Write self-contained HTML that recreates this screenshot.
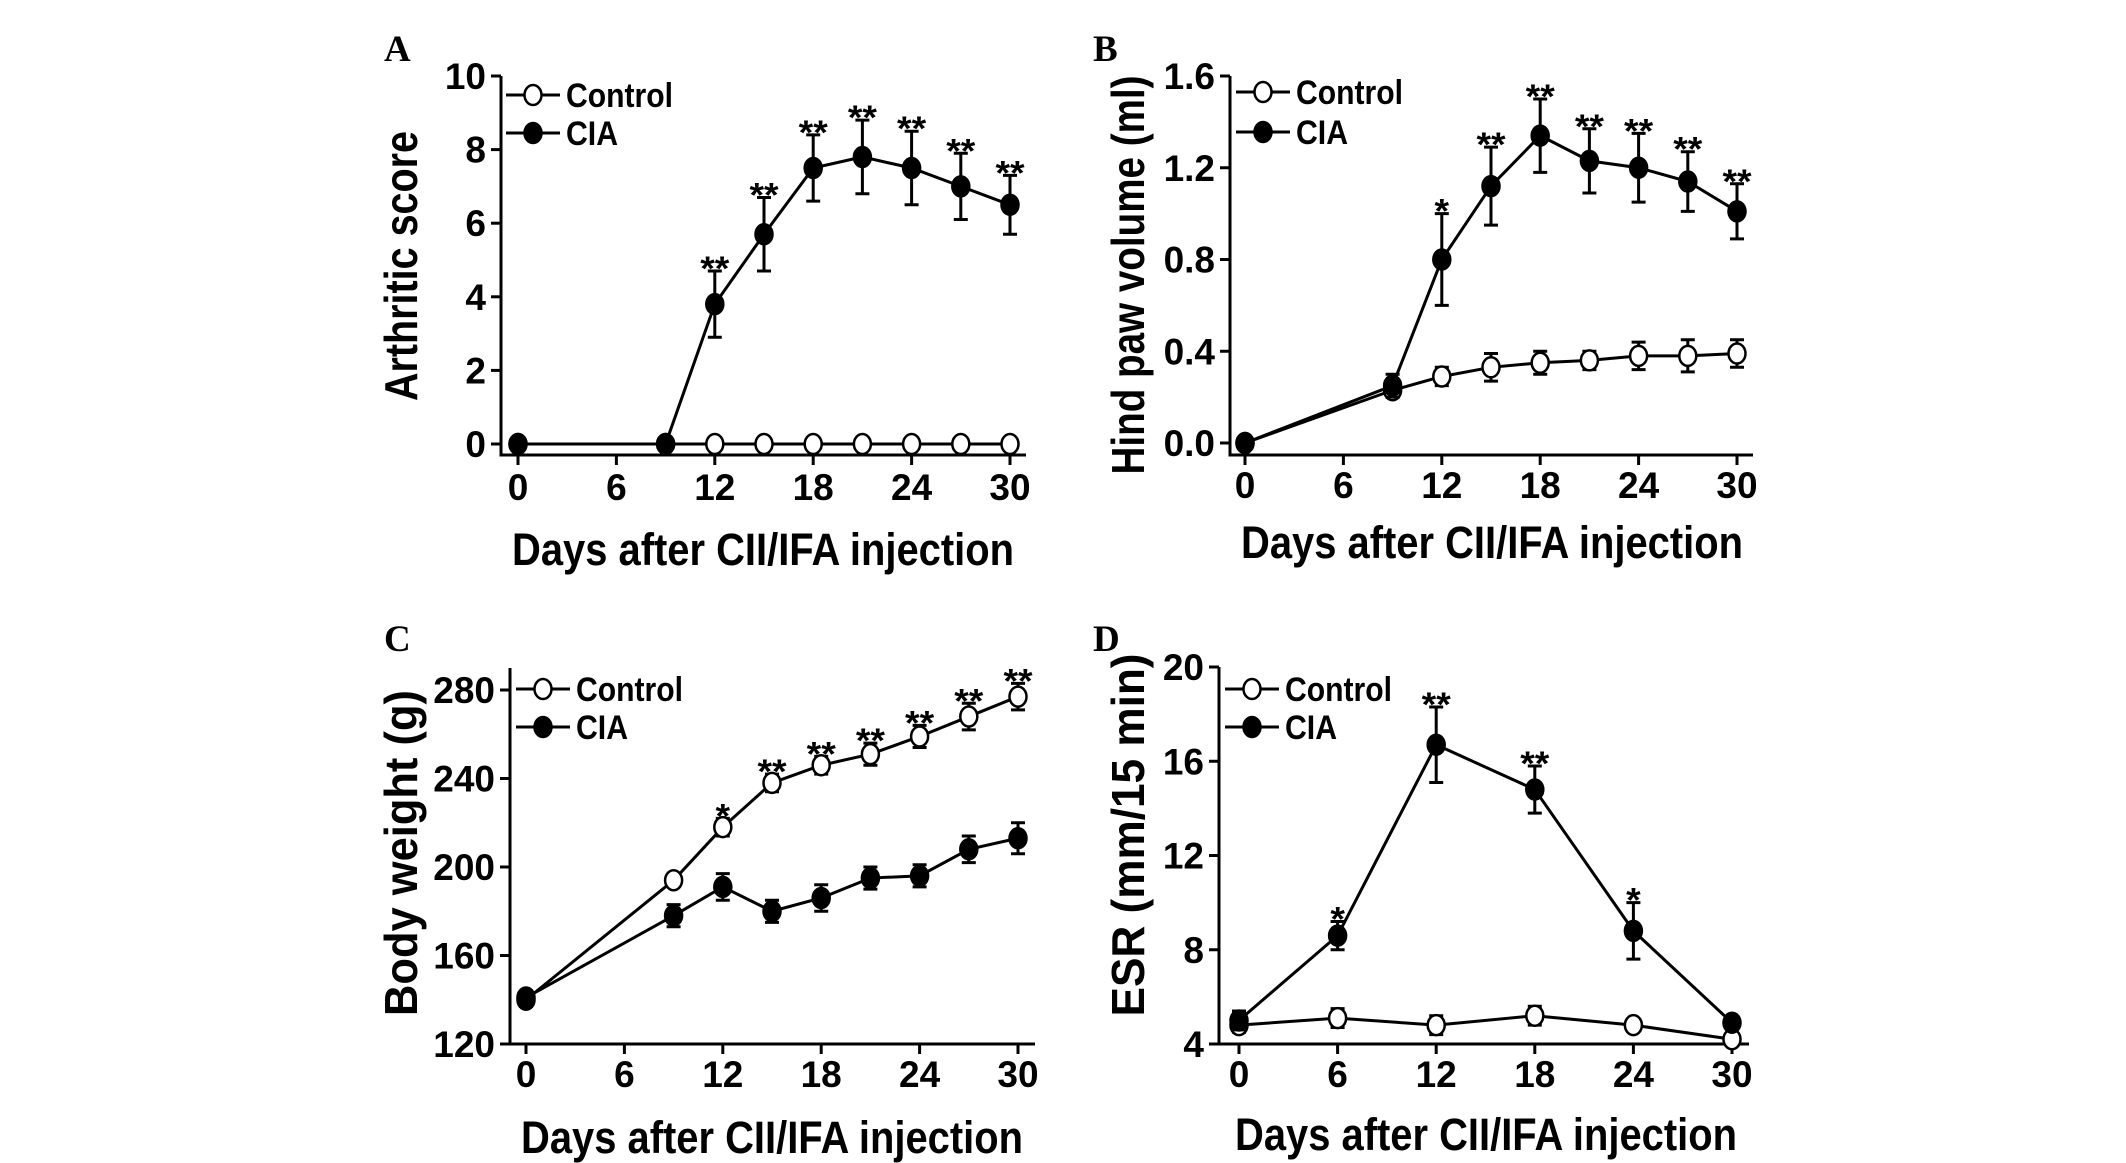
<!DOCTYPE html>
<html><head><meta charset="utf-8"><style>
html,body{margin:0;padding:0;background:#fff;overflow:hidden;}
svg{display:block;}
text{font-family:"Liberation Sans",Arial,sans-serif;font-weight:bold;fill:#000;}
</style></head><body>
<svg id="fig" width="2126" height="1163" viewBox="0 0 2126 1163" xmlns="http://www.w3.org/2000/svg"></svg>
<script>
// Panel A data
const daysA = [0,9,12,15,18,21,24,27,30];
const ctrlA = [0,0,0,0,0,0,0,0,0];
const ctrlErrA = [0,0,0,0,0,0,0,0,0];
const ciaA = [0,0,3.8,5.7,7.5,7.8,7.5,7.0,6.5];
const ciaErrA = [0,0,0.9,1.0,0.9,1.0,1.0,0.9,0.8];
const starsA = ["","","**","**","**","**","**","**","**"];
const yTicksA = [0,2,4,6,8,10];
// Panel B data
const daysB = [0,9,12,15,18,21,24,27,30];
const ctrlB = [0,0.23,0.29,0.33,0.35,0.36,0.38,0.38,0.39];
const ctrlErrB = [0,0.03,0.04,0.06,0.05,0.04,0.06,0.07,0.06];
const ciaB = [0,0.25,0.80,1.12,1.34,1.23,1.20,1.14,1.01];
const ciaErrB = [0,0.05,0.20,0.17,0.16,0.14,0.15,0.13,0.12];
const starsB = ["","","*","**","**","**","**","**","**"];
const yTicksB = [0,0.4,0.8,1.2,1.6];
const yLabelsB = ["0.0","0.4","0.8","1.2","1.6"];
// Panel C data
const daysC = [0,9,12,15,18,21,24,27,30];
const ctrlC = [140,194,218,238,246,251,259,268,277];
const ctrlErrC = [3,2,4,4,4,5,5,6,6];
const ciaC = [141,178,191,180,186,195,196,208,213];
const ciaErrC = [3,5,6,5,6,5,5,6,7];
const starsC = ["","","*","**","**","**","**","**","**"];
const yTicksC = [120,160,200,240,280];
// Panel D data
const daysD = [0,6,12,18,24,30];
const ctrlD = [4.8,5.1,4.8,5.2,4.8,4.2];
const ctrlErrD = [0.3,0.4,0.4,0.4,0.2,0.1];
const ciaD = [5.0,8.6,16.7,14.8,8.8,4.9];
const ciaErrD = [0.4,0.6,1.6,1.0,1.2,0.2];
const starsD = ["","*","**","**","*",""];
const yTicksD = [4,8,12,16,20];
const xTicks = [0,6,12,18,24,30];

const NS = "http://www.w3.org/2000/svg";
const svg = document.getElementById("fig");
function mk(tag, attrs, parent){
  const e = document.createElementNS(NS, tag);
  for (const k in attrs) e.setAttribute(k, attrs[k]);
  (parent||svg).appendChild(e);
  return e;
}

function panel(cfg){
  const g = mk("g", {});
  
  
  const xs = d => cfg.x0 + d / 30 * (cfg.x30 - cfg.x0);
  const ys = v => cfg.yBot + (v - cfg.yMin) / (cfg.yMax - cfg.yMin) * (cfg.yTop - cfg.yBot);

  const letter = mk("text", {x: cfg.lx, y: cfg.ly, "font-size": 37, style: "font-family:'Liberation Serif',serif;font-weight:bold"}, g);
  letter.textContent = cfg.letter;
  
  

  const ya = mk("line", {x1: cfg.ax, y1: cfg.axTop, x2: cfg.ax, y2: cfg.axBot + 1.5, stroke: "#000", "stroke-width": 3}, g);
  
  
  const xa = mk("line", {x1: cfg.ax - 1.5, y1: cfg.axBot, x2: cfg.axRight, y2: cfg.axBot, stroke: "#000", "stroke-width": 3}, g);
  
  

  cfg.yTicks.forEach((v, i) => {
    const y = ys(v);
    const t = mk("line", {x1: cfg.ax - 10, y1: y, x2: cfg.ax, y2: y, stroke: "#000", "stroke-width": 3}, g);
    
    
    const lb = mk("text", {x: cfg.ax - 15, y: y + 13, "font-size": 37, "text-anchor": "end"}, g);
    lb.textContent = cfg.yLabels ? cfg.yLabels[i] : String(v);
    
    
  });
  xTicks.forEach(d => {
    const x = xs(d);
    const t = mk("line", {x1: x, y1: cfg.axBot, x2: x, y2: cfg.axBot + 10, stroke: "#000", "stroke-width": 3}, g);
    
    
    const lb = mk("text", {x: x, y: cfg.tly + 13, "font-size": 37, "text-anchor": "middle"}, g);
    lb.textContent = String(d);
    
    
  });

  const xt = mk("text", {x: cfg.xtx, y: cfg.xty + 16, "font-size": 45, "text-anchor": "middle", textLength: 502, lengthAdjust: "spacingAndGlyphs"}, g);
  xt.textContent = "Days after CII/IFA injection";
  
  
  const yt = mk("text", {x: 0, y: 0, "font-size": 46, "text-anchor": "middle", textLength: cfg.ytLen, lengthAdjust: "spacingAndGlyphs", transform: "translate(" + (cfg.ytx + 17) + "," + cfg.yty + ") rotate(-90)"}, g);
  yt.textContent = cfg.ytitle;
  
  

  function series(days, vals, errs, filled, name){
    const pts = days.map((d, i) => xs(d) + "," + ys(vals[i])).join(" ");
    const pl = mk("polyline", {points: pts, fill: "none", stroke: "#000", "stroke-width": 3}, g);
    
    
    days.forEach((d, i) => {
      if (errs[i] > 0) {
        const x = xs(d), y1 = ys(vals[i] + errs[i]), y2 = ys(vals[i] - errs[i]);
        const eb = mk("path", {d: "M" + x + "," + y1 + "V" + y2 + "M" + (x - 7) + "," + y1 + "H" + (x + 7) + "M" + (x - 7) + "," + y2 + "H" + (x + 7), stroke: "#000", "stroke-width": 3, fill: "none"}, g);
        
        
      }
    });
    days.forEach((d, i) => {
      const c = mk("ellipse", {cx: xs(d), cy: ys(vals[i]), rx: 8.5, ry: 10, fill: filled ? "#000" : "#fff", stroke: "#000", "stroke-width": 2.5}, g);
      
      
    });
  }
  series(cfg.days, cfg.ctrl, cfg.ctrlErr, false, "control");
  series(cfg.days, cfg.cia, cfg.ciaErr, true, "cia");

  cfg.days.forEach((d, i) => {
    if (!cfg.stars[i]) return;
    const v = cfg.starOn === "ctrl" ? cfg.ctrl[i] + cfg.ctrlErr[i] : cfg.cia[i] + cfg.ciaErr[i];
    const s = mk("text", {x: 0, y: 0, "font-size": 34, "text-anchor": "middle", transform: "translate(" + xs(d) + "," + (ys(v) + 9) + ") scale(1.1,1)"}, g);
    s.textContent = cfg.stars[i];
    
    
  });

  [["Control", false, cfg.legY1, 107], ["CIA", true, cfg.legY2, 52]].forEach(L => {
    const ll = mk("line", {x1: cfg.legCx - 27, y1: L[2], x2: cfg.legCx + 27, y2: L[2], stroke: "#000", "stroke-width": 3}, g);
    
    
    const lc = mk("ellipse", {cx: cfg.legCx, cy: L[2], rx: 8.5, ry: 10, fill: L[1] ? "#000" : "#fff", stroke: "#000", "stroke-width": 2.5}, g);
    
    
    const lt = mk("text", {x: cfg.legCx + 33, y: L[2] + 12, "font-size": 34, textLength: L[3], lengthAdjust: "spacingAndGlyphs"}, g);
    lt.textContent = L[0];
    
    
  });
}

panel({letter:"A", lx:384, ly:61, ax:501, axTop:76, axBot:455, axRight:1026, x0:518, x30:1010, yBot:444, yTop:76, yMin:0, yMax:10,
  yTicks:yTicksA, days:daysA, ctrl:ctrlA, ctrlErr:ctrlErrA, cia:ciaA, ciaErr:ciaErrA, stars:starsA, starOn:"cia", tly:487,
  xtx:763, xty:549, ytx:400, yty:266, ytLen:270, ytitle:"Arthritic score", legCx:533, legY1:95, legY2:133});
panel({letter:"B", lx:1093, ly:61, ax:1230, axTop:76, axBot:455, axRight:1753, x0:1245, x30:1737, yBot:443, yTop:76, yMin:0, yMax:1.6,
  yTicks:yTicksB, yLabels:yLabelsB, days:daysB, ctrl:ctrlB, ctrlErr:ctrlErrB, cia:ciaB, ciaErr:ciaErrB, stars:starsB, starOn:"cia", tly:485,
  xtx:1492, xty:542, ytx:1127, yty:275, ytLen:399, ytitle:"Hind paw volume (ml)", legCx:1263, legY1:92, legY2:132});
panel({letter:"C", lx:384, ly:651, ax:510, axTop:668, axBot:1044, axRight:1035, x0:526, x30:1018, yBot:1044, yTop:690, yMin:120, yMax:280,
  yTicks:yTicksC, days:daysC, ctrl:ctrlC, ctrlErr:ctrlErrC, cia:ciaC, ciaErr:ciaErrC, stars:starsC, starOn:"ctrl", tly:1074,
  xtx:772, xty:1137, ytx:400, yty:853, ytLen:326, ytitle:"Body weight (g)", legCx:543, legY1:689, legY2:727});
panel({letter:"D", lx:1093, ly:651, ax:1219, axTop:667, axBot:1044, axRight:1749, x0:1239, x30:1732, yBot:1044, yTop:667, yMin:4, yMax:20,
  yTicks:yTicksD, days:daysD, ctrl:ctrlD, ctrlErr:ctrlErrD, cia:ciaD, ciaErr:ciaErrD, stars:starsD, starOn:"cia", tly:1074,
  xtx:1486, xty:1134, ytx:1127, yty:835, ytLen:363, ytitle:"ESR (mm/15 min)", legCx:1252, legY1:689, legY2:727});
</script>
</body></html>
